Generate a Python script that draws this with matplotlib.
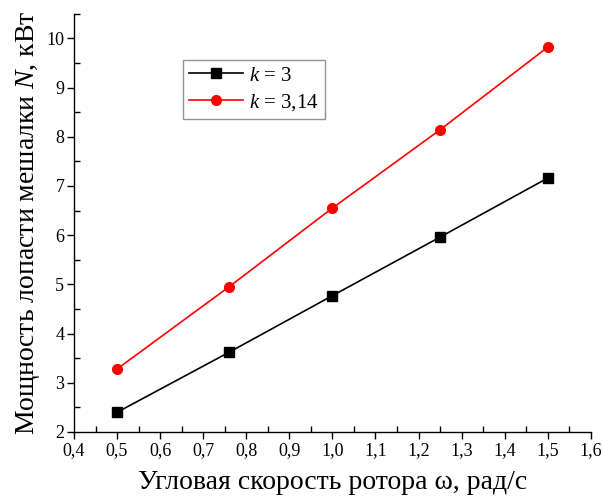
import numpy as np
from matplotlib import pyplot as plt
from matplotlib.ticker import MultipleLocator

plt.rcParams['font.family'] = ['Liberation Serif', 'DejaVu Serif']
plt.rcParams['mathtext.fontset'] = 'custom'
plt.rcParams['mathtext.it'] = 'Liberation Serif:italic'
plt.rcParams['mathtext.rm'] = 'Liberation Serif'

omega = [0.5, 0.76, 1.0, 1.25, 1.5]
n_k3 = [2.40, 3.62, 4.77, 5.96, 7.16]
n_k314 = [3.28, 4.95, 6.55, 8.14, 9.82]

fig = plt.figure(figsize=(6.03, 5.0), dpi=100)
ax = fig.add_axes([0.1227, 0.136, 0.857, 0.8366])

ax.plot(omega, n_k3, color='black', linewidth=1.2, marker='s', markersize=6.5,
        label='$k$ = 3')
ax.plot(omega, n_k314, color='red', linewidth=1.2, marker='o', markersize=7,
        label='$k$ = 3,14')

ax.set_xlim(0.4, 1.6)
ax.set_ylim(2, 10.5)
ax.xaxis.set_minor_locator(MultipleLocator(0.05))
ax.yaxis.set_minor_locator(MultipleLocator(0.5))
ax.set_xticks(np.arange(0.4, 1.61, 0.1))
ax.set_xticklabels([f'{v:.1f}'.replace('.', ',') for v in np.arange(0.4, 1.61, 0.1)])
ax.set_yticks(range(2, 11))

ax.tick_params(which='major', direction='out', length=5, width=1, labelsize=13, pad=2)
ax.tick_params(which='minor', direction='in', length=4, width=1)
for s in ['top', 'right']:
    ax.spines[s].set_visible(False)
for s in ['left', 'bottom']:
    ax.spines[s].set_linewidth(1)

ax.set_xlabel('Угловая скорость ротора ω, рад/с', fontsize=20, labelpad=8)
ax.set_ylabel('Мощность лопасти мешалки $N$, кВт', fontsize=20, labelpad=3)

leg = ax.legend(loc='upper left', bbox_to_anchor=(0.19, 0.915), fontsize=15,
                frameon=True, fancybox=False, edgecolor='#777777',
                handlelength=2.6, borderpad=0.3, labelspacing=0.3,
                handletextpad=0.3)
leg.get_frame().set_linewidth(1)

plt.savefig('out.png', dpi=100)
